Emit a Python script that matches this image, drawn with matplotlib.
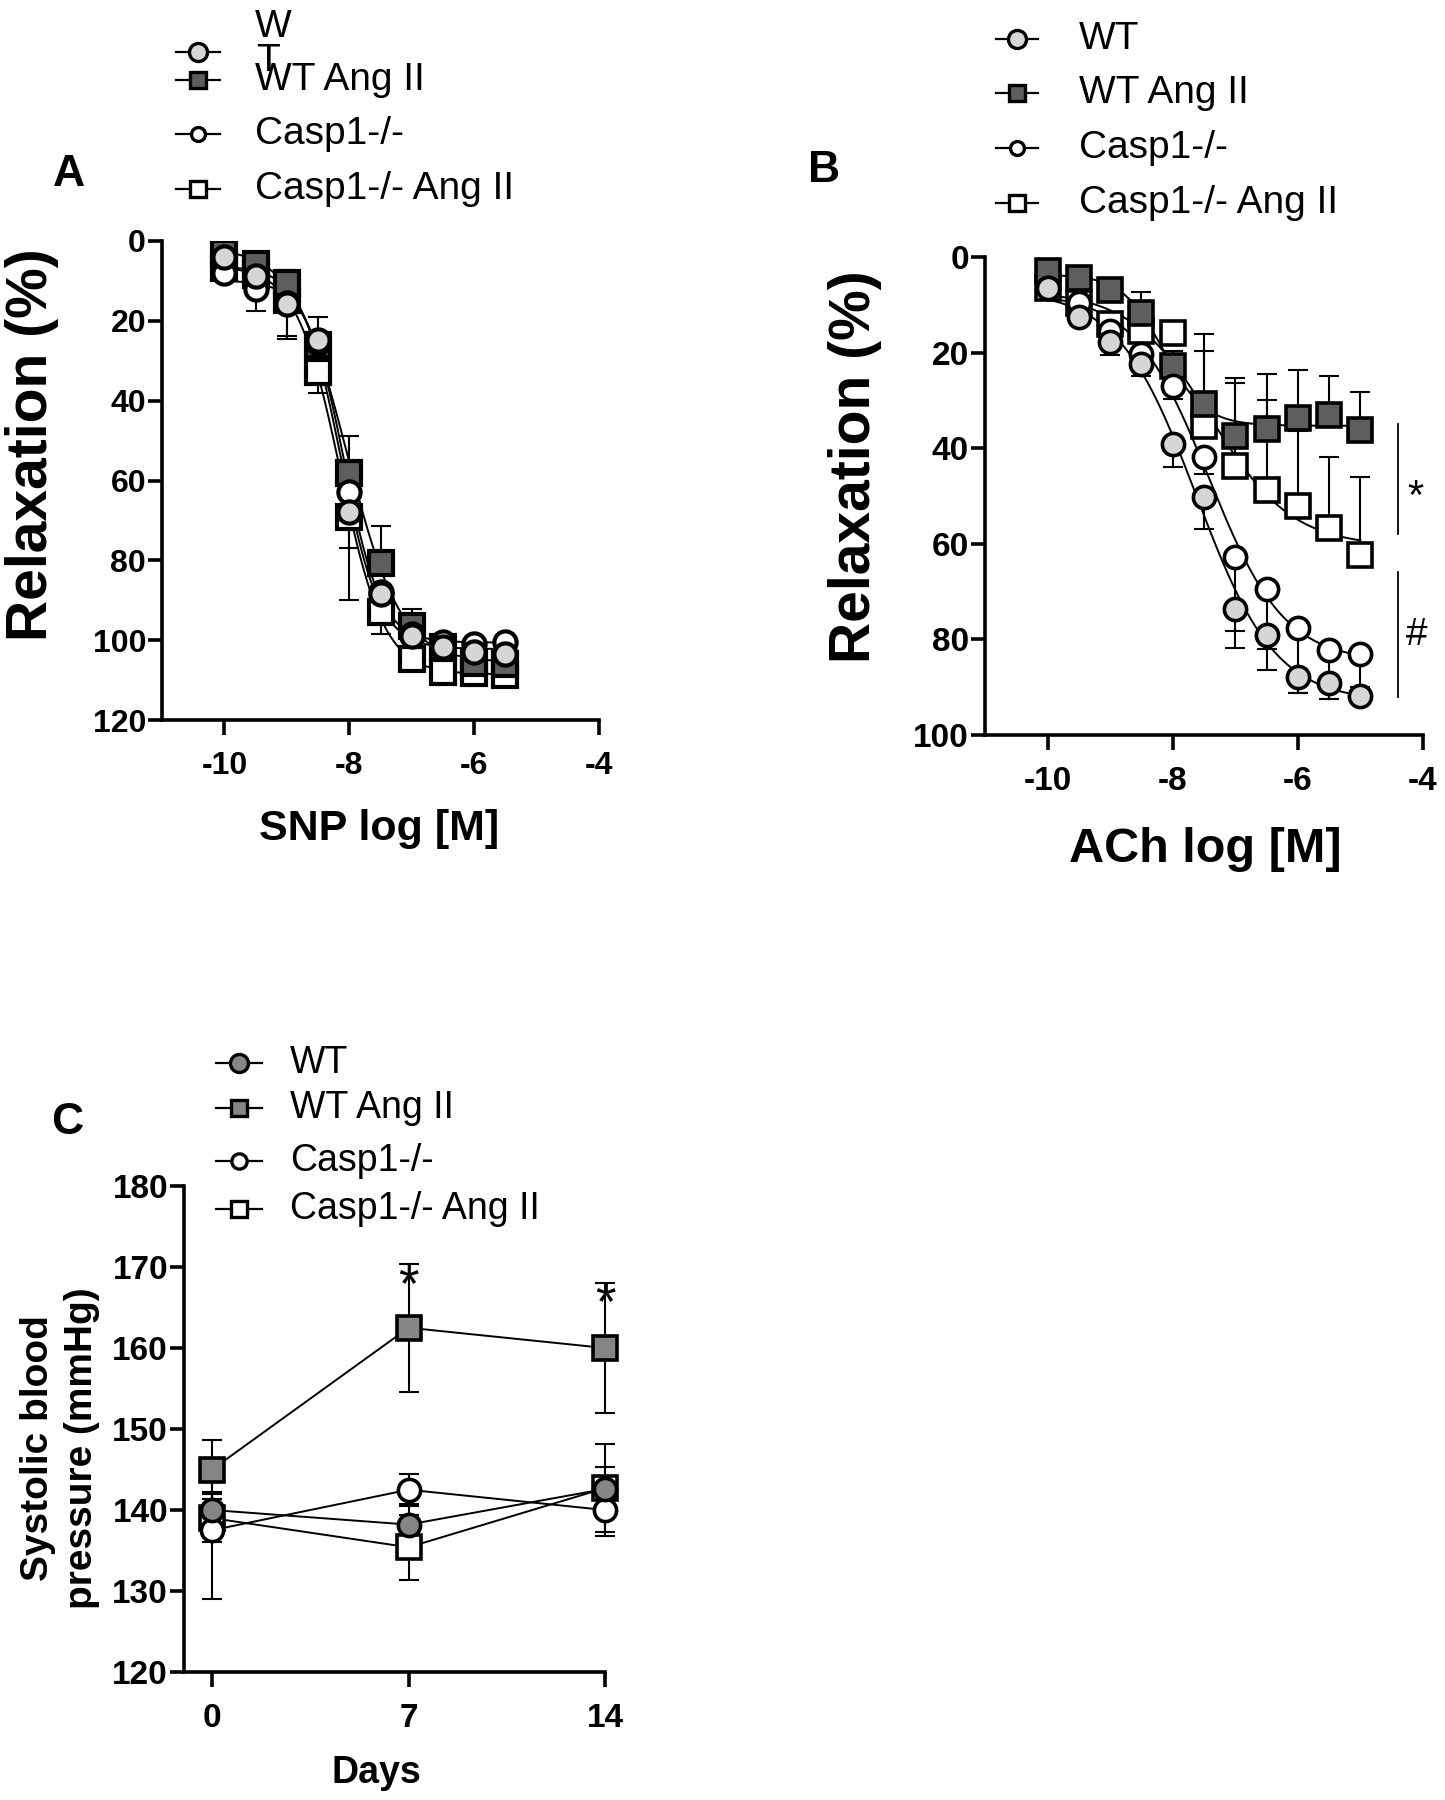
import matplotlib.pyplot as plt
import numpy as np

plt.rcParams['font.family'] = ['Liberation Sans', 'DejaVu Sans']
plt.rcParams['axes.unicode_minus'] = False

W, H = 1445, 1800

# ---- panel A: SNP (relaxation %) ----
snp_x = [-10, -9.5, -9, -8.5, -8, -7.5, -7, -6.5, -6, -5.5]
snp_wt = [3.9, 8.8, 15.7, 24.9, 67.9, 88.4, 98.9, 101.6, 102.9, 103.4]
snp_wt_ang = [3.1, 5.8, 10.5, 26.0, 58.2, 80.6, 96.4, 101.6, 105.6, 106.0]
snp_casp = [8.0, 12.0, 15.5, 25.6, 62.9, 88.0, 98.4, 100.4, 101.0, 100.4]
snp_casp_ang = [6.7, 8.5, 14.8, 32.8, 69.2, 93.0, 104.7, 107.9, 108.3, 108.8]
# signed SEM: >0 drawn towards larger values, <0 towards smaller values
snp_wt_err = [1, 1, 1, 1, 2, 2, 1, 1, 1, 1]
snp_wt_ang_err = [0, 0, -3.3, -6.9, -9.4, -9.1, -4.1, 0, 0, 0]
snp_casp_err = [1.9, 5.5, 8.3, 0, 14.0, 0, 0, 0, 0, 0]
snp_casp_ang_err = [0, 0, 9.7, 5.4, 20.8, 5.4, 0, 0, 0, 0]

# ---- panel B: ACh (relaxation %) ----
ach_x = [-10, -9.5, -9, -8.5, -8, -7.5, -7, -6.5, -6, -5.5, -5]
ach_wt = [6.5, 12.6, 17.7, 22.4, 39.2, 50.2, 73.6, 79.0, 87.9, 89.2, 91.9]
ach_wt_ang = [2.9, 4.3, 6.9, 11.8, 22.7, 30.7, 37.5, 35.9, 33.6, 33.0, 36.1]
ach_casp = [6.5, 9.7, 15.5, 20.2, 26.9, 41.9, 62.8, 69.5, 77.6, 82.3, 83.0]
ach_casp_ang = [6.5, 9.7, 14.0, 15.5, 15.9, 35.4, 43.7, 48.7, 52.0, 56.7, 62.3]
ach_wt_err = [0, 0, 2.9, 2.5, 4.8, 6.8, 8.2, 3.0, 3.4, 3.2, 1.0]
ach_wt_ang_err = [0, 0, 0, -4.4, -3.0, -11.0, -12.2, -6.0, -10.0, -8.1, -7.8]
ach_casp_err = [0, 0, 0, 0, 2.9, 3.6, 15.5, 16.8, 13.7, 10.1, 6.9]
ach_casp_ang_err = [0, 0, 0, 0, 0, -19.2, -17.3, -24.2, -15.7, -14.8, -16.3]

# ---- panel C: systolic blood pressure ----
days = [0, 7, 14]
bp_wt = [140.0, 138.2, 142.6]
bp_wt_ang = [145.0, 162.5, 160.0]
bp_casp = [137.5, 142.5, 140.0]
bp_casp_ang = [139.0, 135.4, 142.7]
bp_wt_err = [2.2, 2.5, 2.7]
bp_wt_ang_err = [3.6, 7.9, 8.0]
bp_casp_err = [8.5, 2.0, 3.2]
bp_casp_ang_err = [3.0, 4.0, 5.4]
star_days = [7, 14]
star_y = [171.5, 169.3]

labels = ['WT', 'WT Ang II', 'Casp1-/-', 'Casp1-/- Ang II']
LIGHT, DARK, MID = '#d6d6d6', '#5e5e5e', '#858585'
# drawing order: WT on top, then Casp1, WT Ang II, Casp1 Ang II
ZORD = [8, 6, 7, 5]


def fit_4pl(x, y):
    # grid search on logEC50 / hill, bottom & top by least squares
    x = np.asarray(x, float)
    y = np.asarray(y, float)
    E, Hh = np.meshgrid(np.arange(-10, -5, 0.005), np.arange(0.3, 3.0, 0.01), indexing='ij')
    s = 1 / (1 + 10 ** ((E[..., None] - x) * Hh[..., None]))
    a = 1 - s
    saa, sab, sbb = (a * a).sum(-1), (a * s).sum(-1), (s * s).sum(-1)
    say, sby = (a * y).sum(-1), (s * y).sum(-1)
    det = saa * sbb - sab ** 2
    bot = (sbb * say - sab * sby) / det
    top = (saa * sby - sab * say) / det
    sse = ((bot[..., None] * a + top[..., None] * s - y) ** 2).sum(-1)
    i = np.unravel_index(np.nanargmin(sse), sse.shape)
    return bot[i], top[i], E[i], Hh[i]


def curve(x, p):
    bot, top, ec, h = p
    return bot + (top - bot) / (1 + 10 ** ((ec - x) * h))


def signed_err(e):
    e = np.asarray(e, float)
    return [np.clip(-e, 0, None), np.clip(e, 0, None)]


def style_axes(ax, fs):
    for sp in ['top', 'right']:
        ax.spines[sp].set_visible(False)
    for sp in ['left', 'bottom']:
        ax.spines[sp].set_linewidth(2.6)
    ax.tick_params(direction='out', width=2.6, labelsize=fs)
    ax.tick_params(axis='x', length=11, pad=11)
    ax.tick_params(axis='y', length=10, pad=1.5)
    for lab in ax.get_xticklabels() + ax.get_yticklabels():
        lab.set_fontweight('bold')


def px_axes(fig, l, t, r, b):
    return fig.add_axes([l / W, 1 - b / H, (r - l) / W, (b - t) / H])


fig = plt.figure(figsize=(W / 100, H / 100), dpi=100)

# ---------- A ----------
axA = px_axes(fig, 162, 241, 599, 720)
seriesA = [(snp_wt, snp_wt_err, 'o', LIGHT, 16),
           (snp_wt_ang, snp_wt_ang_err, 's', DARK, 17),
           (snp_casp, snp_casp_err, 'o', 'white', 16),
           (snp_casp_ang, snp_casp_ang_err, 's', 'white', 17)]
xs = np.linspace(snp_x[0], snp_x[-1], 300)
for k in range(4):
    y, e, m, fc, ms = seriesA[k]
    axA.plot(xs, curve(xs, fit_4pl(snp_x, y)), color='black', lw=1.4, zorder=2)
    axA.errorbar(snp_x, y, yerr=signed_err(e), fmt='none', ecolor='black',
                 elinewidth=1.5, capsize=7, capthick=1.5, zorder=3)
    axA.plot(snp_x, y, ls='none', marker=m, ms=ms, mfc=fc, mec='black', mew=3, zorder=ZORD[k])
axA.set_xlim(-11, -4)
axA.set_ylim(120, 0)
axA.set_xticks([-10, -8, -6, -4])
axA.set_yticks(np.arange(0, 121, 20))
style_axes(axA, 23)

# ---------- B ----------
axB = px_axes(fig, 985, 257, 1423, 735)
seriesB = [(ach_wt, ach_wt_err, 'o', LIGHT, 16),
           (ach_wt_ang, ach_wt_ang_err, 's', DARK, 17),
           (ach_casp, ach_casp_err, 'o', 'white', 16),
           (ach_casp_ang, ach_casp_ang_err, 's', 'white', 17)]
xs = np.linspace(ach_x[0], ach_x[-1], 300)
for k in range(4):
    y, e, m, fc, ms = seriesB[k]
    axB.plot(xs, curve(xs, fit_4pl(ach_x, y)), color='black', lw=1.4, zorder=2)
    axB.errorbar(ach_x, y, yerr=signed_err(e), fmt='none', ecolor='black',
                 elinewidth=1.5, capsize=7, capthick=1.5, zorder=3)
    axB.plot(ach_x, y, ls='none', marker=m, ms=ms, mfc=fc, mec='black', mew=2.6,
             zorder=ZORD[k], clip_on=False)
axB.set_xlim(-11, -4)
axB.set_ylim(100, 0)
axB.set_xticks([-10, -8, -6, -4])
axB.set_yticks(np.arange(0, 101, 20))
style_axes(axB, 24)
axB.plot([-4.4, -4.4], [35, 58], color='black', lw=1.3, clip_on=False)
axB.plot([-4.4, -4.4], [66, 92], color='black', lw=1.3, clip_on=False)
axB.text(-4.12, 50.5, '*', fontsize=30, ha='center', va='center')
axB.text(-4.1, 79, '#', fontsize=28, ha='center', va='center')

# ---------- C ----------
axC = px_axes(fig, 184, 1186, 605, 1672)
seriesC = [(bp_wt, bp_wt_err, 'o', MID, 16),
           (bp_wt_ang, bp_wt_ang_err, 's', MID, 17),
           (bp_casp, bp_casp_err, 'o', 'white', 16),
           (bp_casp_ang, bp_casp_ang_err, 's', 'white', 17)]
for k in range(4):
    y, e, m, fc, ms = seriesC[k]
    axC.errorbar(days, y, yerr=e, fmt='none', ecolor='black', elinewidth=1.5,
                 capsize=7, capthick=1.5, zorder=3, clip_on=False)
    axC.plot(days, y, color='black', lw=1.4, zorder=2, clip_on=False)
    axC.plot(days, y, ls='none', marker=m, ms=ms, mfc=fc, mec='black',
             mew=2.6, zorder=ZORD[k], clip_on=False)
for d, sy in zip(star_days, star_y):
    axC.text(d, sy - 4.0, '*', fontsize=38, ha='center', va='center')
axC.set_xlim(-1, 14)
axC.set_ylim(120, 180)
axC.set_xticks(days)
axC.set_yticks(np.arange(120, 181, 10))
style_axes(axC, 24)


# ---------- text outside axes ----------
def ftext(x, y, s, **kw):
    fig.text(x / W, 1 - y / H, s, ha='center', va='center', **kw)


ftext(69, 174, 'A', fontsize=32, fontweight='bold')
ftext(824, 170, 'B', fontsize=32, fontweight='bold')
ftext(67, 1122, 'C', fontsize=32, fontweight='bold')
ftext(32, 445, 'Relaxation (%)', fontsize=41, fontweight='bold', rotation=90)
ftext(855, 467, 'Relaxation (%)', fontsize=41, fontweight='bold', rotation=90)
ftext(379, 829, 'SNP log [M]', fontsize=31, fontweight='bold')
ftext(1205, 849, 'ACh log [M]', fontsize=35, fontweight='bold')
ftext(60, 1448, 'Systolic blood\npressure (mmHg)', fontsize=28, fontweight='bold',
      rotation=90, linespacing=1.25)
ftext(376, 1773, 'Days', fontsize=27, fontweight='bold')

# legends drawn in figure pixels
ov = fig.add_axes([0, 0, 1, 1])
ov.set_xlim(0, W)
ov.set_ylim(H, 0)
ov.set_axis_off()
ov.patch.set_visible(False)


def legend(x0, x1, tx, rows, specs, fs, texts):
    for y, (m, fc, ms), lab in zip(rows, specs, texts):
        ov.plot([x0, x1], [y, y], color='black', lw=1.6)
        ov.plot([(x0 + x1) / 2], [y], marker=m, ms=ms, mfc=fc, mec='black', mew=2.4)
        if lab:
            ov.text(tx, y, lab, fontsize=fs, ha='left', va='center')


leg_ab = [('o', LIGHT, 13), ('s', DARK, 12), ('o', 'white', 10), ('s', 'white', 11)]
leg_c = [('o', MID, 13), ('s', MID, 12), ('o', 'white', 11), ('s', 'white', 11)]

# panel A legend: the first label is split in the original ("W" above, "T" below)
legend(176, 220, 255, [52, 80, 134, 189], leg_ab, 28, [None] + labels[1:])
ov.text(255, 27, 'W', fontsize=28, ha='left', va='center')
ov.text(256, 61, 'T', fontsize=28, ha='left', va='center')
legend(996, 1038, 1079, [39, 93, 148, 203], leg_ab, 28, labels)
legend(216, 262, 290, [1063, 1108, 1161, 1209], leg_c, 27, labels)

fig.savefig('out.png', dpi=100)
